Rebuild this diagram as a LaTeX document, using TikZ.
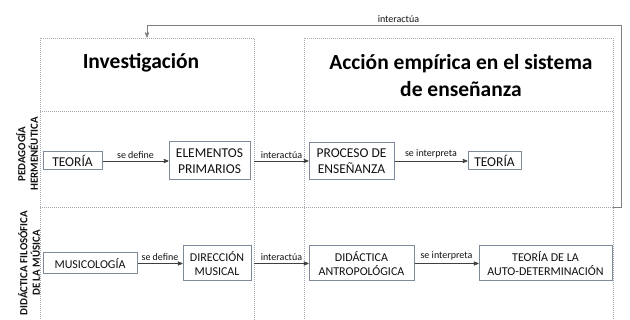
\documentclass[tikz,border=0pt]{standalone}
\usepackage{fontspec}
\setmainfont{Carlito}
\usetikzlibrary{arrows,positioning}
\definecolor{boxline}{HTML}{7E8A9A}
\definecolor{dotline}{HTML}{A4AAB4}
\definecolor{arrowline}{HTML}{404040}
\definecolor{loopline}{HTML}{7F7F7F}
\definecolor{inktext}{HTML}{111111}

\begin{document}
\begin{tikzpicture}[x=1pt,y=-1pt,
    concept/.style={draw=boxline,line width=1pt,fill=white,align=center,inner sep=1pt,text=inktext},
    rowA/.style={concept,font=\fontsize{13.5}{15.5}\selectfont},
    rowB/.style={concept,font=\fontsize{12}{14}\selectfont},
    lane/.style={draw=dotline,line width=0.8pt,dash pattern=on 1pt off 1pt,minimum height=292pt,inner sep=0pt},
    divider/.style={draw=dotline,line width=0.8pt,dash pattern=on 1pt off 1pt},
    heading/.style={font=\fontsize{21.5}{27}\selectfont\bfseries,align=center},
    rowlabel/.style={font=\fontsize{10.9}{12.5}\selectfont\bfseries,align=center,rotate=90,text=inktext},
    lbl/.style={font=\fontsize{10}{12}\selectfont,text=inktext,inner sep=2.5pt},
    post/.style={->,>=stealth',line width=0.8pt,draw=arrowline},
    feedback/.style={->,>=stealth',line width=0.9pt,draw=loopline}
    ]
\useasboundingbox (0,0) rectangle (630,320);

% columns and rows
\node[lane,minimum width=214pt] (colL) at (147,184) {};
\node[lane,minimum width=309pt] (colR) at (458.5,184) {};
\coordinate (sepA) at (0,111);
\coordinate (sepB) at (0,207);
\draw[divider] (colL.west |- sepA) -- (colR.east |- sepA);
\draw[divider] (colL.west |- sepB) -- (colR.east |- sepB);

\node[heading] (invest) at (141,63) {Investigación};
\node[heading] (accion) at (461,76) {Acción empírica en el sistema\\de enseñanza};

\node[rowlabel] (pedag) at (27,154) {PEDAGOGÍA\\HERMENÉUTICA};
\node[rowlabel] (didfil) at (29,263) {DIDÁCTICA FILOSÓFICA\\DE LA MÚSICA};

% first row
\node[rowA,minimum width=59pt,minimum height=18pt] (teoriaA) at (72.5,161) {TEORÍA};
\node[rowA,minimum width=81pt,minimum height=38pt,right=66pt of teoriaA] (elem) {ELEMENTOS\\PRIMARIOS};
\node[rowA,minimum width=85pt,minimum height=37pt,right=58pt of elem] (proc) {PROCESO DE\\ENSEÑANZA};
\node[rowA,minimum width=53pt,minimum height=18pt,right=73pt of proc] (teoriaB) {TEORÍA};

% second row
\node[rowB,minimum width=94pt,minimum height=21pt] (music) at (90,263.5) {MUSICOLOGÍA};
\node[rowB,minimum width=68pt,minimum height=35pt,right=45pt of music] (direc) {DIRECCIÓN\\MUSICAL};
\node[rowB,minimum width=105pt,minimum height=35pt,right=57pt of direc] (didac) {DIDÁCTICA\\ANTROPOLÓGICA};
\node[rowB,minimum width=133pt,minimum height=35pt,right=64pt of didac] (autod) {TEORÍA DE LA\\AUTO-DETERMINACIÓN};

\draw[post] (teoriaA) -- node[lbl,above]{se define} (elem);
\draw[post] (colL.east |- elem) -- node[lbl,above]{interactúa} (proc);
\draw[post] (proc) -- node[lbl,above]{se interpreta} (teoriaB);

\draw[post] (music) -- node[lbl,above]{se define} (direc);
\draw[post] (colL.east |- direc) -- node[lbl,above]{interactúa} (didac);
\draw[post] (didac) -- node[lbl,above]{se interpreta} (autod);

\draw[feedback] (colR.east |- sepB) -- ++(8,0) |- ([yshift=12pt]colL.north)
    node[lbl,pos=0.735,above]{interactúa} -- (colL.north);

\end{tikzpicture}
\end{document}
